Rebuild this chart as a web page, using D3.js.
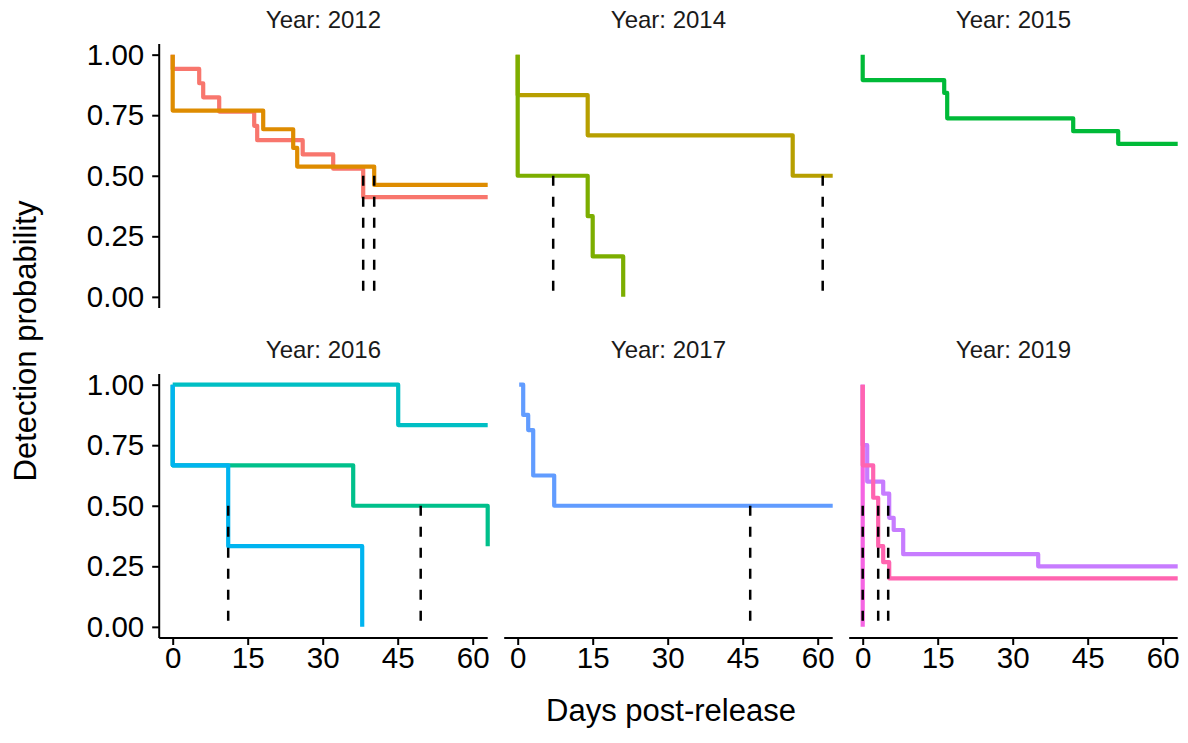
<!DOCTYPE html>
<html>
<head>
<meta charset="utf-8">
<script src="https://cdn.jsdelivr.net/npm/d3@7"></script>
<style>
  html, body { margin: 0; padding: 0; background: #fff; }
  svg { display: block; font-family: "Liberation Sans", Arial, Helvetica, sans-serif; }
</style>
</head>
<body>
<svg id="chart" width="1188" height="743"></svg>
<script>
// ---- Data: Kaplan-Meier step curves (day of step, survival after step) ----
const panelYears = ["2012", "2014", "2015", "2016", "2017", "2019"];

const days2012a = [0, 0, 5.3, 6.1, 9.3, 16.3, 16.9, 26, 32.1, 38.1, 63];
const surv2012a = [1, 0.941, 0.882, 0.824, 0.765, 0.706, 0.647, 0.588, 0.529, 0.412, 0.412];
const days2012b = [0, 0, 18.1, 24.1, 24.9, 40.3, 63];
const surv2012b = [1, 0.769, 0.692, 0.615, 0.538, 0.462, 0.462];

const days2014a = [0, 0, 14, 55, 63];
const surv2014a = [1, 0.833, 0.667, 0.5, 0.5];
const days2014b = [0, 0, 14, 15, 21.1];
const surv2014b = [1, 0.5, 0.333, 0.167, 0];

const days2015a = [0, 0, 16.3, 16.9, 42.1, 51.1, 63];
const surv2015a = [1, 0.895, 0.842, 0.737, 0.684, 0.632, 0.632];

const days2016a = [0, 0, 36.1, 63, 63];
const surv2016a = [1, 0.667, 0.5, 0.5, 0.333];
const days2016b = [0, 45.1, 63];
const surv2016b = [1, 0.833, 0.833];
const days2016c = [0, 0, 11.1, 37.9];
const surv2016c = [1, 0.667, 0.333, 0];

const days2017a = [0.3, 1.1, 2.1, 3.1, 7.3, 63];
const surv2017a = [1, 0.875, 0.8125, 0.625, 0.5, 0.5];

const days2019a = [0, 0, 0.9, 4.1, 5.3, 6.2, 8.1, 35.1, 63];
const surv2019a = [1, 0.75, 0.6, 0.55, 0.45, 0.4, 0.3, 0.25, 0.25];
const days2019b = [0, 0];
const surv2019b = [1, 0];
const days2019c = [0, 0, 2.1, 3.1, 4.1, 5.3, 63];
const surv2019c = [1, 0.667, 0.533, 0.333, 0.267, 0.2, 0.2];

// Curve order (later curves are drawn on top)
const curveYear = ["2012", "2012", "2014", "2014", "2015", "2016", "2016", "2016", "2017", "2019", "2019", "2019"];
const curveDays = [days2012a, days2012b, days2014a, days2014b, days2015a, days2016a, days2016b, days2016c, days2017a, days2019a, days2019b, days2019c];
const curveSurv = [surv2012a, surv2012b, surv2014a, surv2014b, surv2015a, surv2016a, surv2016b, surv2016c, surv2017a, surv2019a, surv2019b, surv2019c];

// Median detection days (dashed reference lines from 0.5 down to 0)
const medianYear = ["2012", "2012", "2014", "2014", "2016", "2016", "2017", "2019", "2019", "2019"];
const medianDay  = [38.1, 40.3, 7.1, 61, 11.1, 49.6, 46.5, 0, 3.1, 5.1];
const medianSurv = 0.5;

const xTicks = [0, 15, 30, 45, 60];
const yTicks = [0, 0.25, 0.5, 0.75, 1];

// ---- Styling ----
const palette = ["#F8766D", "#DE8C00", "#B79F00", "#7CAE00", "#00BA38", "#00C08B",
                 "#00BFC4", "#00B4F0", "#619CFF", "#C77CFF", "#F564E3", "#FF64B0"];

const panelW = 328.5, panelH = 264;
const colX = [159.2, 504.2, 849.2];
const rowY = [44, 374];
const tickFont = 29.5, titleFont = 31, stripFont = 24;

const x = d3.scaleLinear().domain([-2.7, 63]).range([0, panelW]);
const y = d3.scaleLinear().domain([-0.046, 1.044]).range([panelH, 0]);

const svg = d3.select("#chart");

function stepPath(days, surv) {
  let p = [[x(days[0]), y(surv[0])]];
  for (let i = 1; i < days.length; i++) {
    p.push([x(days[i]), y(surv[i - 1])]);
    p.push([x(days[i]), y(surv[i])]);
  }
  return d3.line()(p);
}

panelYears.forEach((yr, k) => {
  const col = k % 3, row = Math.floor(k / 3);
  const g = svg.append("g").attr("transform", `translate(${colX[col]},${rowY[row]})`);

  // strip label
  g.append("text")
    .attr("x", panelW / 2).attr("y", -16)
    .attr("text-anchor", "middle")
    .attr("font-size", stripFont)
    .attr("fill", "#1a1a1a")
    .text("Year: " + yr);

  // step curves
  curveYear.forEach((cy, i) => {
    if (cy !== yr) return;
    g.append("path")
      .attr("d", stepPath(curveDays[i], curveSurv[i]))
      .attr("fill", "none")
      .attr("stroke", palette[i])
      .attr("stroke-width", 4.2)
      .attr("stroke-linejoin", "round");
  });

  // median dashed lines
  medianYear.forEach((my, i) => {
    if (my !== yr) return;
    g.append("line")
      .attr("x1", x(medianDay[i])).attr("x2", x(medianDay[i]))
      .attr("y1", y(medianSurv)).attr("y2", y(0))
      .attr("stroke", "#000")
      .attr("stroke-width", 2.5)
      .attr("stroke-dasharray", "10,11");
  });

  // y axis on the left column
  if (col === 0) {
    const ya = g.append("g")
      .call(d3.axisLeft(y).tickValues(yTicks).tickSize(7).tickPadding(8).tickFormat(d3.format(".2f")));
    ya.select(".domain").attr("d", `M0,0V${panelH}`).attr("stroke", "#000").attr("stroke-width", 2);
    ya.selectAll(".tick line").attr("stroke", "#000").attr("stroke-width", 2);
    ya.selectAll(".tick text").attr("font-size", tickFont).attr("fill", "#000")
      .attr("font-family", "Liberation Sans, Arial, sans-serif");
  }
  // x axis on the bottom row
  if (row === 1) {
    const xa = g.append("g").attr("transform", `translate(0,${panelH})`)
      .call(d3.axisBottom(x).tickValues(xTicks).tickSize(7).tickPadding(2));
    xa.select(".domain").attr("d", `M0,0H${panelW}`).attr("stroke", "#000").attr("stroke-width", 2);
    xa.selectAll(".tick line").attr("stroke", "#000").attr("stroke-width", 2);
    xa.selectAll(".tick text").attr("font-size", tickFont).attr("fill", "#000")
      .attr("font-family", "Liberation Sans, Arial, sans-serif");
  }
});

// axis titles
svg.append("text")
  .attr("x", 671).attr("y", 721)
  .attr("text-anchor", "middle")
  .attr("font-size", titleFont)
  .attr("fill", "#000")
  .text("Days post-release");

svg.append("text")
  .attr("transform", "translate(36,341) rotate(-90)")
  .attr("text-anchor", "middle")
  .attr("font-size", titleFont)
  .attr("fill", "#000")
  .text("Detection probability");
</script>
</body>
</html>
